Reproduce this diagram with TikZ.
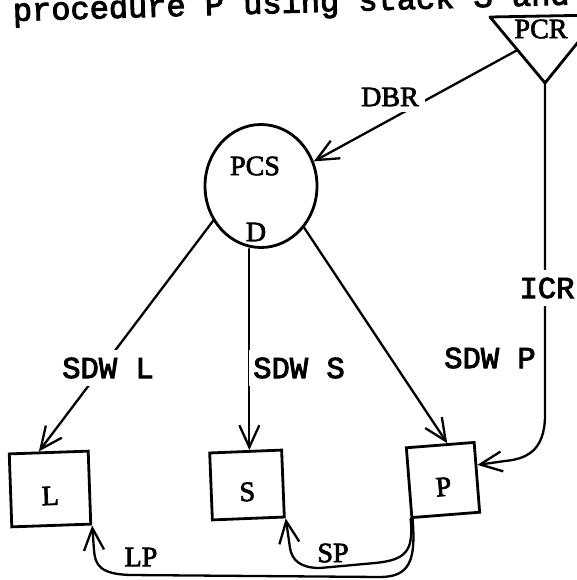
\documentclass[tikz,border=0pt]{standalone}
\usepackage{fontspec}
\newfontfamily\tw[FakeBold=3]{Liberation Mono}
\newfontfamily\rmlab[FakeBold=2.5]{Liberation Serif}
\usetikzlibrary{arrows.meta,shapes.geometric,calc}
\tikzset{
  line/.style={line width=2.3pt, line cap=round, line join=round},
  arr/.style={line, -{Straight Barb[length=22pt,width=20pt,line width=2.3pt]}},
  box/.style={draw, line width=2.8pt, rectangle, inner sep=0pt,
    font=\rmlab\fontsize{28}{31}\selectfont, text height=32pt, text depth=0pt},
  mono/.style={font=\tw\fontsize{30.5}{34}\selectfont, fill=white, inner xsep=4pt, inner ysep=8pt},
  serif/.style={font=\rmlab\fontsize{28}{31}\selectfont, inner sep=0pt}
}
\begin{document}
\begin{tikzpicture}[x=1pt,y=-1pt]
\useasboundingbox (0,0) rectangle (577,580);
\fill[white] (0,0) rectangle (577,580);

% title (cut off at the top, slightly tilted)
\node[anchor=base west, inner sep=0pt, rotate=1.7, font=\tw\fontsize{32}{36}\selectfont] (title) at (13,21) {procedure P using stack S and};

% boxes
\node[box, minimum width=79pt, minimum height=73pt, rotate=2] (L) at (50,489) {L};
\node[box, minimum width=72pt, minimum height=67pt, rotate=2.3] (S) at (247,485) {S};
\node[box, minimum width=68pt, minimum height=70pt, rotate=4.5] (P) at (443,480) {P};

% PCS circle
\node[draw, ellipse, line width=2.8pt, minimum width=112pt, minimum height=123pt, inner sep=0pt] (PCS) at (261,186) {};
\node[serif] (pcst) at (255,166) {PCS};
\node[serif] (dt) at (256,232) {D};

% PCR triangle
\coordinate (tl) at (490,17);
\coordinate (tr) at (600,15);
\coordinate (apex) at (545,83);
\draw[line width=2.8pt, line join=round] (tl) -- (tr) -- (apex) -- cycle;
\node[serif] (pcr) at (541,29) {PCR};

% connectors
\coordinate (dbrs) at ($(tl)!0.5!(apex)$);
\draw[arr] (dbrs) -- (PCS.25);

\coordinate (picr) at ($(P.north east)!0.33!(P.south east)$);
\draw[arr] (apex) -- (545,415) .. controls (545,452) and (525,459) .. (505,461) -- (picr);

\coordinate (ltip) at ($(L.north west)!0.38!(L.north east)$);
\draw[arr] (PCS.216) -- (ltip);
\coordinate (stip) at ($(S.north west)!0.55!(S.north east)$);
\draw[arr] (stip |- PCS.south) -- (stip);
\coordinate (ptip) at ($(P.north west)!0.6!(P.north east)$);
\draw[arr] (PCS.316) -- (ptip);

\draw[arr] ($(P.south west)+(2,0)$) .. controls (416,560) and (410,577) .. (380,577) -- (130,575) .. controls (100,574) and (95,565) .. (94,550) -- (L.south east);
\draw[arr] (P.south west) .. controls (414,552) and (405,560) .. (375,563) -- (320,568) .. controls (300,568) and (292,560) .. (290,548) -- (S.south east);

% labels
\node[serif, fill=white, inner sep=6pt] (dbr) at (390,97) {DBR};
\node[mono] (icr) at (547,288) {ICR};
\node[mono] (sdwl) at (108,368) {SDW L};
\node[mono] (sdws) at (299,368) {SDW S};
\node[mono] (sdwp) at (490,358) {SDW P};
\node[serif] (lp) at (141,557) {LP};
\node[serif] (sp) at (333,553) {SP};
\end{tikzpicture}
\end{document}
